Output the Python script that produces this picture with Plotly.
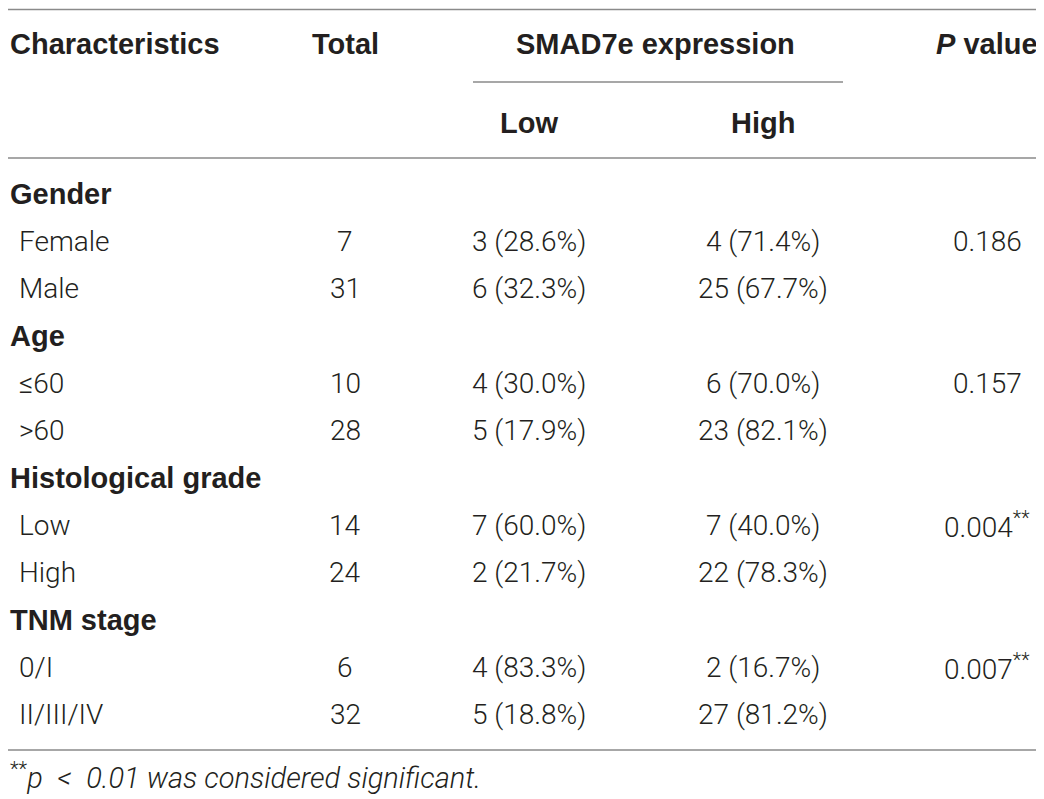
import plotly.graph_objects as go

# table content
header_cols = ["Characteristics", "Total", "SMAD7e expression", "<i>P</i> value"]
sub_header = ["Low", "High"]
groups = ["Gender", "Age", "Histological grade", "TNM stage"]
subgroups = [["Female", "Male"], ["≤60", ">60"], ["Low", "High"], ["0/I", "II/III/IV"]]
totals = [7, 31, 10, 28, 14, 24, 6, 32]
low_n = [3, 6, 4, 5, 7, 2, 4, 5]
low_pct = [28.6, 32.3, 30.0, 17.9, 60.0, 21.7, 83.3, 18.8]
high_n = [4, 25, 6, 23, 7, 22, 2, 27]
high_pct = [71.4, 67.7, 70.0, 82.1, 40.0, 78.3, 16.7, 81.2]
p_values = [0.186, 0.157, 0.004, 0.007]
footnote = "<sup>**</sup><i>p\u2002&lt;\u20020.01 was considered significant.</i>"

W, H = 1044, 799
OFF = 8  # page body margin, so axis units == page pixels
TXT = "#231f20"
LINE = "#8a8a8a"
BODY_FONT = dict(family="Roboto", size=28, color=TXT, weight=300)
FOOT_FONT = dict(family="Roboto", size=29, color=TXT, weight=300)
BOLD_FONT = dict(family="Liberation Sans", size=29, color=TXT, weight="bold")

x_left, x_indent = 8, 17
x_total, x_low, x_high, x_p, x_smad = 345, 529, 763, 987, 655
y_head1, y_head2 = 44, 123
y0, dy = 194, 47.3

annotations = []


def add_text(x, y, text, font, anchor="center"):
    annotations.append(dict(x=x, y=y, xref="x", yref="y", text=text, showarrow=False,
                            xanchor=anchor, yanchor="middle", font=font))


# header
add_text(x_left, y_head1, header_cols[0], BOLD_FONT, "left")
add_text(x_total, y_head1, header_cols[1], BOLD_FONT)
add_text(x_smad, y_head1, header_cols[2], BOLD_FONT)
add_text(x_p, y_head1, header_cols[3], BOLD_FONT)
add_text(x_low, y_head2, sub_header[0], BOLD_FONT)
add_text(x_high, y_head2, sub_header[1], BOLD_FONT)

# body
row = 0
k = 0
for g, subs, p in zip(groups, subgroups, p_values):
    add_text(x_left, y0 + dy * row, g, BOLD_FONT, "left")
    row += 1
    for j, s in enumerate(subs):
        y = y0 + dy * row
        add_text(x_indent, y, s, BODY_FONT, "left")
        add_text(x_total, y, str(totals[k]), BODY_FONT)
        add_text(x_low, y, f"{low_n[k]} ({low_pct[k]:.1f}%)", BODY_FONT)
        add_text(x_high, y, f"{high_n[k]} ({high_pct[k]:.1f}%)", BODY_FONT)
        if j == 0:
            ptxt = f"{p:.3f}" + ("<sup>**</sup>" if p < 0.01 else "")
            add_text(x_p, y, ptxt, BODY_FONT)
        row += 1
        k += 1

add_text(x_left, 776, footnote, FOOT_FONT, "left")

# rules
shapes = []
for (xa, xb, y) in [(8, 1036, 9.5), (473, 843, 82), (8, 1036, 158), (8, 1036, 750)]:
    shapes.append(dict(type="line", xref="x", yref="y", x0=xa, x1=xb, y0=y, y1=y,
                       line=dict(color=LINE, width=1.5)))

fig = go.Figure()
fig.add_trace(go.Scatter(x=[OFF, W], y=[OFF, H], mode="markers", marker=dict(opacity=0),
                         hoverinfo="skip", showlegend=False))
fig.update_layout(
    width=W, height=H,
    margin=dict(l=0, r=0, t=0, b=0),
    paper_bgcolor="white", plot_bgcolor="white",
    xaxis=dict(range=[OFF, OFF + W], visible=False, fixedrange=True),
    yaxis=dict(range=[OFF + H, OFF], visible=False, fixedrange=True),
    annotations=annotations,
    shapes=shapes,
    showlegend=False,
)
fig.write_html("out.html")
